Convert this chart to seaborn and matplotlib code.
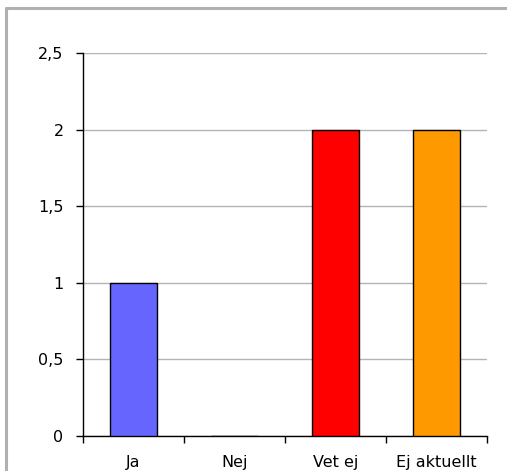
import numpy as np
import pandas as pd
import seaborn as sns
import matplotlib.pyplot as plt
from matplotlib.lines import Line2D
from matplotlib.ticker import FuncFormatter, FixedLocator

kategorier = ['Ja', 'Nej', 'Vet ej', 'Ej aktuellt']
antal = [1, 0, 2, 2]
farger = ['#6666FF', '#9999FF', '#FF0000', '#FF9900']

df = pd.DataFrame({'svar': kategorier, 'antal': antal})

sns.set_style('white')
plt.rcParams['font.family'] = ['DejaVu Sans']

fig = plt.figure(figsize=(5.07, 4.71), dpi=100)
ax = fig.add_axes([83 / 507, 1 - 436 / 471, 404 / 507, 383 / 471])

sns.barplot(data=df, x='svar', y='antal', hue='svar', palette=farger,
            legend=False, width=0.46, edgecolor='black', linewidth=1,
            saturation=1, ax=ax, zorder=3)

ax.set_xlim(-0.5, 3.5)
ax.set_ylim(0, 2.5)
ax.set_yticks(np.arange(0, 2.51, 0.5))
ax.yaxis.set_major_formatter(FuncFormatter(lambda v, p: f'{v:g}'.replace('.', ',')))
ax.yaxis.grid(True, color='#b4b4b4', linewidth=1, zorder=0)
ax.set_axisbelow(True)

ax.xaxis.set_minor_locator(FixedLocator(np.arange(-0.5, 4, 1)))
ax.tick_params(axis='x', which='major', length=0, pad=14, labelsize=11.5, labelcolor='black')
ax.tick_params(axis='x', which='minor', length=5, width=1, color='black', direction='out',
               bottom=True)
ax.tick_params(axis='y', which='major', length=5, width=1, color='black', direction='out',
               left=True, labelsize=11.5, pad=9, labelcolor='black')

for s in ['top', 'right']:
    ax.spines[s].set_visible(False)
for s in ['left', 'bottom']:
    ax.spines[s].set_color('black')
    ax.spines[s].set_linewidth(1)

ax.set_xlabel('')
ax.set_ylabel('')

# grå ram (bara topp och vänster syns)
fig.add_artist(Line2D([6 / 507, 1], [1 - 8 / 471, 1 - 8 / 471], color='#b0b0b0', linewidth=2.2,
                      transform=fig.transFigure))
fig.add_artist(Line2D([6 / 507, 6 / 507], [0, 1 - 8 / 471], color='#b0b0b0', linewidth=2.2,
                      transform=fig.transFigure))

fig.savefig('out.png', dpi=100)
